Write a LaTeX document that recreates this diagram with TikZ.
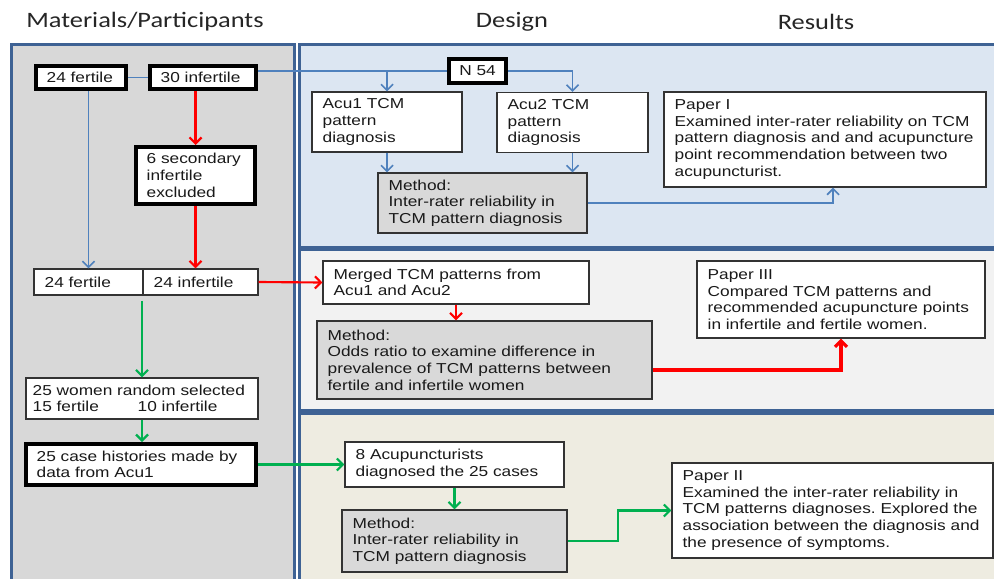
\documentclass[tikz,border=0pt]{standalone}
\usepackage{fontspec}
\setmainfont{Liberation Sans}[FakeStretch=1.2]
\newfontfamily\headfont{Carlito}[FakeStretch=1.2]
\usepackage{tikz}
\usetikzlibrary{arrows.meta}
\usetikzlibrary{positioning}
\definecolor{panelline}{RGB}{62,98,148}
\definecolor{leftfill}{RGB}{216,216,216}
\definecolor{topfill}{RGB}{220,230,242}
\definecolor{midfill}{RGB}{242,242,242}
\definecolor{lowfill}{RGB}{238,236,225}
\definecolor{methodfill}{RGB}{217,217,217}
\definecolor{blueline}{RGB}{79,129,189}
\definecolor{redline}{RGB}{255,0,0}
\definecolor{greenline}{RGB}{0,176,80}
\frenchspacing

\begin{document}
\begin{tikzpicture}[
            x=0.75pt, y=-0.75pt,
            every node/.style={font=\fontsize{10.8}{12.5}\selectfont, text=black!90},
            panel/.style={draw=panelline, line width=2.25pt},
            head/.style={font=\headfont\fontsize{16.5}{19}\selectfont, text=black!85},
            box/.style={draw=black!80, line width=0.8pt, fill=white, align=left, inner xsep=8pt, inner ysep=2pt},
            thickbox/.style={box, draw=black, line width=3pt},
            methodbox/.style={box, fill=methodfill},
            blueflow/.style={draw=blueline, line width=1.3pt, -{Straight Barb[length=4.5pt,width=9pt]}},
            redflow/.style={draw=redline, line width=1.6pt, -{Straight Barb[length=4.5pt,width=9pt]}},
            greenflow/.style={draw=greenline, line width=1.6pt, -{Straight Barb[length=4.5pt,width=9pt]}}
        ]
            \useasboundingbox (0,0) rectangle (994,578);
            \fill[white] (0,0) rectangle (994,578);
            \draw[panel, fill=leftfill] (11.5,44.5) rectangle (294.5,600);
            \draw[panel, fill=topfill] (299.5,44.5) rectangle (1010,247);
            \draw[panel, fill=midfill] (299.5,249.5) rectangle (1010,410.5);
            \draw[panel, fill=lowfill] (299.5,413) rectangle (1010,600);

            \node[head] (hmat) at (145,22) {Materials/Participants};
            \node[head] (hdes) at (512,22) {Design};
            \node[head] (hres) at (816,22) {Results};

            \node[thickbox, text width=51.5pt, minimum height=17.25pt] (fert24) at (81,77.5) {24 fertile};
            \node[thickbox, text width=63.5pt, minimum height=17.25pt] (inf30) at (203,77.5) {30 infertile};
            \node[thickbox, align=center, minimum width=42.75pt, minimum height=18pt] (n54) at (477.5,71) {N 54};
            \node[thickbox, text width=73.25pt, minimum height=42.75pt] (sec6) at (195.5,175.5) {6 secondary\\infertile\\excluded};
            \node[box, text width=65.75pt, minimum height=19.5pt] (fert24b) at (88.5,282) {24 fertile};
            \node[box, text width=70.25pt, minimum height=19.5pt] (inf24b) at (200.5,282) {24 infertile};
            \node[box, inner xsep=5pt, text width=164pt, minimum height=30.75pt] (women25) at (142,398.5) {25 women random selected\\\makebox[78.75pt][l]{15 fertile}10 infertile};
            \node[thickbox, text width=156.5pt, minimum height=30.75pt] (case25) at (141,464.5) {25 case histories made by\\data from Acu1};

            \node[box, text width=96.5pt, minimum height=45pt] (acu1) at (387,122) {Acu1 TCM\\pattern\\diagnosis};
            \node[box, text width=97.25pt, minimum height=45pt] (acu2) at (572.5,122.5) {Acu2 TCM\\pattern\\diagnosis};
            \node[methodbox, text width=140.75pt, minimum height=45pt] (meth1) at (482.5,203) {Method:\\Inter-rater reliability in\\TCM pattern diagnosis};
            \node[box, text width=225.5pt, minimum height=71.25pt] (paper1) at (825,139.5) {Paper I\\Examined inter-rater reliability on TCM\\pattern diagnosis and and acupuncture\\point recommendation between two\\acupuncturist.};

            \node[box, text width=183.5pt, minimum height=32.25pt] (merged) at (456,282.5) {Merged TCM patterns from\\Acu1 and Acu2};
            \node[methodbox, text width=235.25pt, minimum height=58.5pt] (meth2) at (484.5,360) {Method:\\Odds ratio to examine difference in\\prevalence of TCM patterns between\\fertile and infertile women};
            \node[box, text width=200pt, minimum height=57.75pt] (paper3) at (841,299.5) {Paper III\\Compared TCM patterns and\\recommended acupuncture points\\in infertile and fertile women.};

            \node[box, text width=148.25pt, minimum height=33.75pt] (acu8) at (454.5,464.5) {8 Acupuncturists\\diagnosed the 25 cases};
            \node[methodbox, text width=152.75pt, minimum height=46.5pt] (meth3) at (454.5,541) {Method:\\Inter-rater reliability in\\TCM pattern diagnosis};
            \node[box, text width=224.75pt, minimum height=71.25pt] (paper2) at (832.5,510.5) {Paper II\\Examined the inter-rater reliability in\\TCM patterns diagnoses. Explored the\\association between the diagnosis and\\the presence of symptoms.};

            \draw[blueflow, -] (fert24) -- (inf30);
            \draw[blueflow, -] (inf30.east |- n54.west) -- (n54.west);
            \draw[blueflow] (acu1.north |- n54.west) -- (acu1.north);
            \draw[blueflow] (n54.east) -| (acu2.north);
            \draw[blueflow] (acu1.south) -- (acu1.south |- meth1.north);
            \draw[blueflow] (acu2.south) -- (acu2.south |- meth1.north);
            \draw[blueflow] (meth1.east) -| ([xshift=6pt]paper1.south);
            \draw[blueflow] (fert24b.north |- fert24.south) -- (fert24b.north);

            \draw[redflow] (sec6.north |- inf30.south) -- (sec6.north);
            \draw[redflow] (sec6.south) -- (sec6.south |- inf24b.north);
            \draw[redflow] (inf24b.east) -- (merged.west);
            \draw[redflow] (merged.south) -- (merged.south |- meth2.north);
            \draw[redflow, line width=2.4pt] ([yshift=-7.5pt]meth2.east) -| (paper3.south);

            \draw[greenflow, shorten <=4pt] (women25.north |- inf24b.south) -- (women25.north);
            \draw[greenflow] (women25.south) -- (women25.south |- case25.north);
            \draw[greenflow] (case25.east) -- (acu8.west);
            \draw[greenflow] (acu8.south) -- (meth3.north);
            \draw[greenflow] (meth3.east) -- ++(38pt,0) |- (paper2.west);
        \end{tikzpicture}
\end{document}
